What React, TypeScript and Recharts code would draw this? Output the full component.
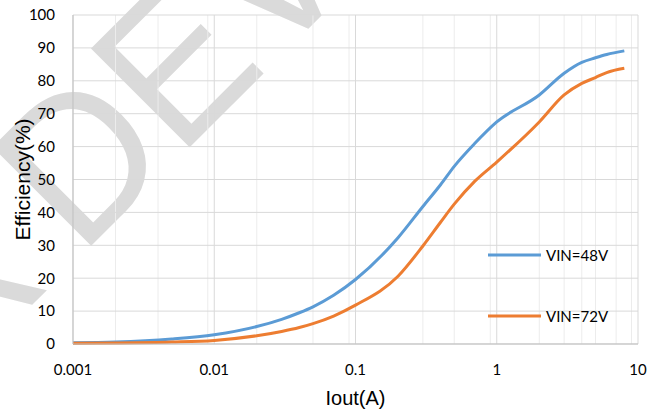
import React from "react";
import {
  LineChart,
  Line,
  XAxis,
  YAxis,
  CartesianGrid,
  Legend,
} from "recharts";

// Iout (A) sample points and efficiency (%)
const iout = [0.001, 0.002, 0.005, 0.01, 0.02, 0.03, 0.04, 0.05, 0.07, 0.1, 0.2, 0.3, 0.4, 0.5, 0.7, 1, 2, 3, 4, 5, 6, 8];
const vin48 = [0.4, 0.6, 1.5, 2.8, 5.3, 7.5, 9.5, 11.3, 14.8, 19.6, 32.3, 41.8, 48.4, 54, 61, 67.5, 75.7, 82.3, 85.6, 87, 88, 89.1];
const vin72 = [0.2, 0.3, 0.6, 1.1, 2.5, 3.8, 5, 6.2, 8.5, 11.8, 20.6, 29.8, 37, 42.5, 49.5, 55.3, 67.5, 75.7, 79.2, 81, 82.5, 83.8];

const xTicks = [0.001, 0.01, 0.1, 1, 10];
const yTicks = [0, 10, 20, 30, 40, 50, 60, 70, 80, 90, 100];
const minorSteps = [2, 3, 4, 5, 6, 7, 8, 9];
const minorTicks = [0.001, 0.01, 0.1, 1].flatMap((d) => minorSteps.map((m) => +(d * m).toPrecision(3)));

const data = iout.map((x, i) => ({ iout: x, v48: vin48[i], v72: vin72[i] }));

const tickFont = { fontFamily: "Lato", fontSize: 15, fill: "#000" };
const titleFont = "Liberation Sans";

function LegendBox({ payload }: any) {
  return (
    <div style={{ fontFamily: "Lato", fontSize: 15, color: "#000" }}>
      {(payload || []).map((p: any, i: number) => (
        <div key={p.value} style={{ display: "flex", alignItems: "center", height: 20, marginBottom: i === 0 ? 41 : 0 }}>
          <svg width={58} height={6}>
            <line x1={0} y1={3} x2={53} y2={3} stroke={p.color} strokeWidth={3} />
          </svg>
          <span>{p.value}</span>
        </div>
      ))}
    </div>
  );
}

export default function App() {
  return (
    <div style={{ position: "absolute", left: 0, top: 0, width: 662, height: 415, background: "#fff", overflow: "hidden" }}>
      {/* watermark */}
      <svg width={662} height={415} style={{ position: "absolute", left: 0, top: 0 }}>
        <g fontFamily="Liberation Sans" fontSize={203} fill="#dadada">
          <text x={0} y={0} transform="translate(80 257) rotate(-45) scale(0.95 1)">DEVELOPMENT</text>
          <text x={-40} y={0} textAnchor="end" transform="translate(80 257) rotate(-45) scale(0.95 1)">UNDER</text>
        </g>
      </svg>
      <div style={{ position: "absolute", left: 0, top: 0 }}>
        <LineChart width={662} height={415} data={data} margin={{ top: 15, right: 24, left: 0, bottom: 7 }}>
          <CartesianGrid horizontal={false} verticalValues={minorTicks} stroke="#ececec" strokeWidth={1} />
          <CartesianGrid stroke="#d9d9d9" strokeWidth={1} />
          <XAxis
            dataKey="iout"
            type="number"
            scale="log"
            domain={[0.001, 10]}
            ticks={xTicks}
            allowDataOverflow
            height={64}
            tickLine={false}
            tickSize={0}
            tickMargin={20}
            axisLine={{ stroke: "#bfbfbf" }}
            tick={tickFont}
            tickFormatter={(v) => String(v)}
            label={({ viewBox }: any) => (
              <text
                x={viewBox.x + viewBox.width / 2}
                y={405}
                textAnchor="middle"
                fontFamily={titleFont}
                fontSize={20}
                fill="#000"
              >
                Iout(A)
              </text>
            )}
          />
          <YAxis
            type="number"
            domain={[0, 100]}
            ticks={yTicks}
            width={73}
            tickLine={false}
            tickSize={0}
            tickMargin={18}
            axisLine={{ stroke: "#bfbfbf" }}
            tick={tickFont}
            label={({ viewBox }: any) => {
              const cx = 30;
              const cy = viewBox.y + viewBox.height / 2;
              return (
                <text
                  x={cx}
                  y={cy}
                  textAnchor="middle"
                  transform={`rotate(-90 ${cx} ${cy})`}
                  fontFamily={titleFont}
                  fontSize={21}
                  fill="#000"
                >
                  Efficiency(%)
                </text>
              );
            }}
          />
          <Legend
            layout="vertical"
            align="center"
            verticalAlign="middle"
            content={<LegendBox />}
            wrapperStyle={{ left: 488, top: 245, width: 150 }}
          />
          <Line
            type="monotone"
            dataKey="v48"
            name="VIN=48V"
            stroke="#5B9BD5"
            strokeWidth={3}
            dot={false}
            isAnimationActive={false}
          />
          <Line
            type="monotone"
            dataKey="v72"
            name="VIN=72V"
            stroke="#ED7D31"
            strokeWidth={3}
            dot={false}
            isAnimationActive={false}
          />
        </LineChart>
      </div>
    </div>
  );
}
